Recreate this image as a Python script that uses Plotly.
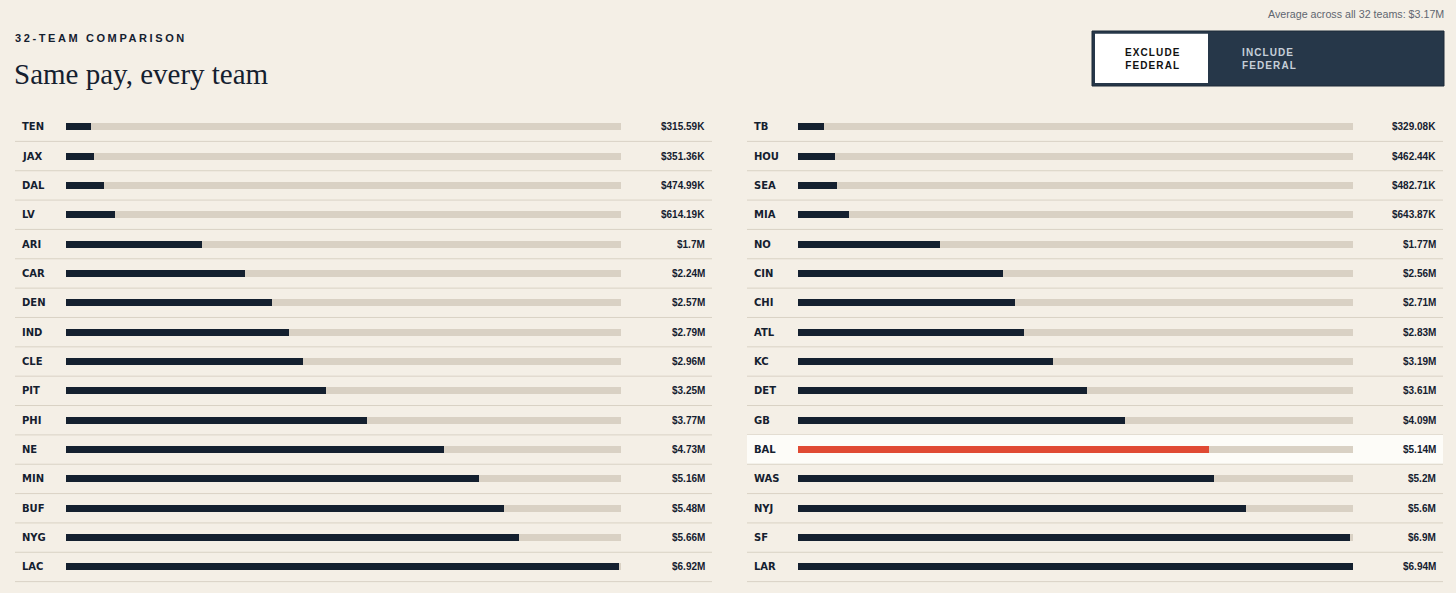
import plotly.graph_objects as go

# ---------------- data ----------------
left_teams = ["TEN", "JAX", "DAL", "LV", "ARI", "CAR", "DEN", "IND",
              "CLE", "PIT", "PHI", "NE", "MIN", "BUF", "NYG", "LAC"]
left_values = [0.31559, 0.35136, 0.47499, 0.61419, 1.70, 2.24, 2.57, 2.79,
               2.96, 3.25, 3.77, 4.73, 5.16, 5.48, 5.66, 6.92]          # $ millions
right_teams = ["TB", "HOU", "SEA", "MIA", "NO", "CIN", "CHI", "ATL",
               "KC", "DET", "GB", "BAL", "WAS", "NYJ", "SF", "LAR"]
right_values = [0.32908, 0.46244, 0.48271, 0.64387, 1.77, 2.56, 2.71, 2.83,
                3.19, 3.61, 4.09, 5.14, 5.20, 5.60, 6.90, 6.94]          # $ millions
highlight_team = "BAL"
kicker = "32-TEAM COMPARISON"
title = "Same pay, every team"
toggle_labels = ["EXCLUDE<br>FEDERAL", "INCLUDE<br>FEDERAL"]

# ---------------- styles ----------------
W, H = 1456, 593
BG = "#f4efe6"
TRACK = "#d9d1c4"
DARK = "#14202f"
ACCENT = "#e04a33"
SEP = "#d9d2c5"
HILITE = "#fdfcf8"
NAVY = "#263749"

all_values = left_values + right_values
vmax = max(all_values)
avg = sum(all_values) / len(all_values)


def fmt(v):
    if v < 1:
        s = f"{v * 1000:.2f}".rstrip("0").rstrip(".")
        return f"${s}K"
    s = f"{v:.2f}".rstrip("0").rstrip(".")
    return f"${s}M"


def px(x):
    return x / W


def py(y):
    return 1 - y / H


ROW0, ROWSTEP = 126.7, 29.35
y_range = [(H - ROW0) / ROWSTEP, -ROW0 / ROWSTEP]
BAR_W = 7 / ROWSTEP

cols = [
    dict(teams=left_teams, values=left_values, xa="x", ya="y",
         dom=[px(66), px(621)], label_x=20, value_x=707, sep=(15, 712)),
    dict(teams=right_teams, values=right_values, xa="x2", ya="y2",
         dom=[px(798), px(1353)], label_x=752, value_x=1438, sep=(747, 1443)),
]

fig = go.Figure()
shapes = []
annotations = []

for c in cols:
    teams, vals = c["teams"], c["values"]
    colors = [ACCENT if t == highlight_team else DARK for t in teams]
    fig.add_trace(go.Bar(x=[vmax] * len(teams), y=teams, orientation="h",
                         marker=dict(color=TRACK, line=dict(width=0)),
                         width=BAR_W, xaxis=c["xa"], yaxis=c["ya"],
                         hoverinfo="skip", showlegend=False))
    fig.add_trace(go.Bar(x=vals, y=teams, orientation="h",
                         marker=dict(color=colors, line=dict(width=0)),
                         width=BAR_W, xaxis=c["xa"], yaxis=c["ya"],
                         showlegend=False,
                         hovertemplate="%{y}: %{x:.2f}M<extra></extra>"))
    for i, (t, v) in enumerate(zip(teams, vals)):
        if t == highlight_team:
            shapes.append(dict(type="rect", xref="paper", yref=c["ya"],
                               x0=px(c["sep"][0]), x1=px(c["sep"][1]),
                               y0=i - 0.5, y1=i + 0.5, fillcolor=HILITE,
                               line=dict(width=0), layer="below"))
        shapes.append(dict(type="line", xref="paper", yref=c["ya"],
                           x0=px(c["sep"][0]), x1=px(c["sep"][1]),
                           y0=i + 0.5, y1=i + 0.5,
                           line=dict(color=SEP, width=1), layer="below"))
        annotations.append(dict(text=f"<b>{t}</b>", xref="paper", yref=c["ya"],
                                x=px(c["label_x"]), y=t, xanchor="left",
                                yanchor="middle", showarrow=False,
                                font=dict(family="DejaVu Sans", size=10, color=DARK)))
        annotations.append(dict(text=f"<b>{fmt(v)}</b>", xref="paper", yref=c["ya"],
                                x=px(c["value_x"]), y=t, xanchor="right",
                                yanchor="middle", showarrow=False,
                                font=dict(family="Liberation Sans", size=10, color=DARK)))

# header texts
annotations.append(dict(
    text=f'<span style="letter-spacing:2.6px"><b>{kicker}</b></span>',
    xref="paper", yref="paper", x=px(13), y=py(37.5), xanchor="left",
    yanchor="middle", showarrow=False,
    font=dict(family="Liberation Sans", size=11, color=DARK)))
annotations.append(dict(
    text=title, xref="paper", yref="paper", x=px(12), y=py(74),
    xanchor="left", yanchor="middle", showarrow=False,
    font=dict(family="Liberation Serif", size=29, color=DARK)))
annotations.append(dict(
    text=f"Average across all {len(all_values)} teams: ${avg:.2f}M",
    xref="paper", yref="paper", x=px(1446), y=py(14), xanchor="right",
    yanchor="middle", showarrow=False,
    font=dict(family="Liberation Sans", size=10.7, color="#5f6670")))

# toggle
shapes.append(dict(type="rect", xref="paper", yref="paper",
                   x0=px(1092), x1=px(1444), y0=py(31), y1=py(86),
                   fillcolor=NAVY, line=dict(color="#1c2a39", width=1)))
shapes.append(dict(type="rect", xref="paper", yref="paper",
                   x0=px(1095), x1=px(1208), y0=py(33.7), y1=py(83),
                   fillcolor="#ffffff", line=dict(width=0)))
annotations.append(dict(
    text=f'<span style="letter-spacing:1.1px"><b>{toggle_labels[0]}</b></span>',
    xref="paper", yref="paper", x=px(1152), y=py(58.5), xanchor="center",
    yanchor="middle", showarrow=False, align="center",
    font=dict(family="Liberation Sans", size=10, color="#111111")))
annotations.append(dict(
    text=f'<span style="letter-spacing:1.1px"><b>{toggle_labels[1]}</b></span>',
    xref="paper", yref="paper", x=px(1240), y=py(58.5), xanchor="left",
    yanchor="middle", showarrow=False, align="left",
    font=dict(family="Liberation Sans", size=10, color="#c6cfd9")))

axis_common = dict(showgrid=False, zeroline=False, showticklabels=False,
                   showline=False, ticks="", fixedrange=True)

fig.update_layout(
    width=W, height=H, margin=dict(l=0, r=0, t=0, b=0),
    paper_bgcolor=BG, plot_bgcolor="rgba(0,0,0,0)",
    barmode="overlay", bargap=0,
    xaxis=dict(domain=cols[0]["dom"], range=[0, vmax], **axis_common),
    xaxis2=dict(domain=cols[1]["dom"], range=[0, vmax], anchor="y2", **axis_common),
    yaxis=dict(domain=[0, 1], type="category", categoryorder="array",
               categoryarray=left_teams, range=y_range, anchor="x", **axis_common),
    yaxis2=dict(domain=[0, 1], type="category", categoryorder="array",
                categoryarray=right_teams, range=y_range, anchor="x2", **axis_common),
    shapes=shapes, annotations=annotations,
    showlegend=False,
)

fig.write_html("out.html", config={"displayModeBar": False},
               post_script="document.body.style.margin='0';document.body.style.overflow='hidden';")
